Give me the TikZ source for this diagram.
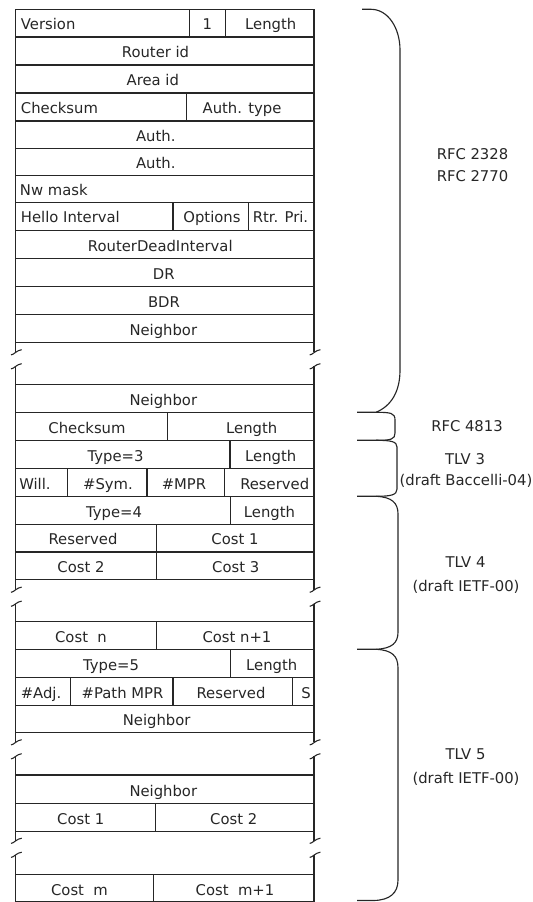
\documentclass[tikz,border=0pt]{standalone}
\usepackage{fontspec}
\setmainfont{DejaVu Sans}
\begin{document}
\begin{tikzpicture}[x=0.75pt,y=-0.75pt,
  tbl/.style={draw=black!85,line width=0.8pt},
  brc/.style={draw=black!85,line width=0.85pt},
  lbl/.style={anchor=base,inner sep=0pt,font=\fontsize{11.1pt}{13pt}\selectfont,text=black!85},
  lblw/.style={lbl,anchor=base west}]
\useasboundingbox (0,0) rectangle (532,902);
\newcommand\rowbox[2]{\draw[tbl] (15.3,#1) rectangle (314,#2);}
\newcommand\vdiv[3]{\draw[tbl] (#1,#2) -- (#1,#3);}
\newcommand\brk[2]{\draw[tbl] ({#1-4.3},{#2+2.6}) .. controls ({#1-1.5},{#2+2.6}) and ({#1+1.5},{#2-2.2}) .. ({#1+6.4},{#2-2.6});}
\newcommand\gap[4]{%
  \draw[tbl] (15.3,#1) -- (15.3,#2); \brk{15.3}{#2}
  \draw[tbl] (314,#1) -- (314,#2); \brk{314}{#2}
  \brk{15.3}{#3} \draw[tbl] (15.3,#3) -- (15.3,#4);
  \brk{314}{#3} \draw[tbl] (314,#3) -- (314,#4);}
% rows 1-12
\rowbox{9.3}{37} \vdiv{189.3}{9.3}{37} \vdiv{225.3}{9.3}{37}
\node[lblw] (ver) at (20.7,29.7) {Version};
\node[lbl] (one) at (207.3,29.7) {1};
\node[lbl] (len1) at (270.7,29.7) {Length};
\rowbox{37}{65} \node[lbl] (rid) at (155.5,57.7) {Router id};
\rowbox{65}{93} \node[lbl] (aid) at (152.8,85.7) {Area id};
\rowbox{93}{121} \vdiv{186.7}{93}{121}
\node[lblw] (cks1) at (20.7,113.7) {Checksum};
\node[lbl] (atype) at (242,113.7) {Auth. type};
\rowbox{121}{148.5} \node[lbl] (auth1) at (155.8,141.2) {Auth.};
\rowbox{148.5}{175.5} \node[lbl] (auth2) at (155.8,168.2) {Auth.};
\rowbox{175.5}{202.5} \node[lblw] (nwm) at (19.7,195.2) {Nw mask};
\rowbox{202.5}{230.3} \vdiv{173}{202.5}{230.3} \vdiv{248.3}{202.5}{230.3}
\node[lblw] (hello) at (20.7,223) {Hello Interval};
\node[lbl] (opt) at (212,223) {Options};
\node[lbl] (rtr) at (280.5,223) {Rtr. Pri.};
\rowbox{230.3}{258.3} \node[lbl] (rdi) at (160.3,251) {RouterDeadInterval};
\rowbox{258.3}{286.3} \node[lbl] (dr) at (163.7,279) {DR};
\rowbox{286.3}{314.3} \node[lbl] (bdr) at (164,307) {BDR};
\rowbox{314.3}{342.3} \node[lbl] (nb1) at (163.3,335) {Neighbor};
\gap{342.3}{352.3}{366.3}{384.3}
% rows 13-19
\rowbox{384.3}{412.3} \node[lbl] (nb2) at (163.3,405) {Neighbor};
\rowbox{412.3}{440.3} \vdiv{167.7}{412.3}{440.3}
\node[lbl] (cks2) at (87,433) {Checksum};
\node[lbl] (len2) at (251.7,433) {Length};
\rowbox{440.3}{468.3} \vdiv{230}{440.3}{468.3}
\node[lbl] (t3) at (115.5,461) {Type=3};
\node[lbl] (len3) at (270.7,461) {Length};
\rowbox{468.3}{496.3} \vdiv{67.7}{468.3}{496.3} \vdiv{147}{468.3}{496.3} \vdiv{224.3}{468.3}{496.3}
\node[lblw] (will) at (19,489) {Will.};
\node[lbl] (sym) at (108,489) {\#Sym.};
\node[lbl] (mpr) at (184,489) {\#MPR};
\node[lbl] (res1) at (274.7,489) {Reserved};
\rowbox{496.3}{524.3} \vdiv{230.7}{496.3}{524.3}
\node[lbl] (t4) at (114,517) {Type=4};
\node[lbl] (len4) at (269.5,517) {Length};
\rowbox{524.3}{552} \vdiv{156.7}{524.3}{552}
\node[lbl] (res2) at (83,544.7) {Reserved};
\node[lbl] (c1a) at (235,544.7) {Cost 1};
\rowbox{552}{579.7} \vdiv{156.7}{552}{579.7}
\node[lbl] (c2a) at (81,572.4) {Cost 2};
\node[lbl] (c3a) at (235.7,572.4) {Cost 3};
\gap{579.7}{589.7}{603.7}{621.7}
% rows 20-23
\rowbox{621.7}{649.3} \vdiv{156.7}{621.7}{649.3}
\node[lbl] (cn) at (81,642) {Cost\ \ n};
\node[lbl] (cn1) at (237,642) {Cost n+1};
\rowbox{649.3}{677.3} \vdiv{230.3}{649.3}{677.3}
\node[lbl] (t5) at (111,670) {Type=5};
\node[lbl] (len5) at (271.7,670) {Length};
\rowbox{677.3}{705.3} \vdiv{70.3}{677.3}{705.3} \vdiv{173}{677.3}{705.3} \vdiv{292.3}{677.3}{705.3}
\node[lbl] (adj) at (41,698) {\#Adj.};
\node[lbl] (pmpr) at (122.5,698) {\#Path MPR};
\node[lbl] (res3) at (231,698) {Reserved};
\node[lbl] (sflag) at (306,698) {S};
\rowbox{705.3}{732.7} \node[lbl] (nb3) at (156.7,725.4) {Neighbor};
\gap{732.7}{742.3}{756.3}{775}
% rows 24-25
\rowbox{775}{803.3} \node[lbl] (nb4) at (163.3,796) {Neighbor};
\rowbox{803.3}{831.3} \vdiv{155.3}{803.3}{831.3}
\node[lbl] (c1b) at (80.7,824) {Cost 1};
\node[lbl] (c2b) at (233.7,824) {Cost 2};
\gap{831.3}{840.8}{854.8}{874.7}
% row 26
\rowbox{874.7}{901.6} \vdiv{153.7}{874.7}{901.6}
\node[lbl] (cm) at (79.5,895.4) {Cost\ \ m};
\node[lbl] (cm1) at (235,895.4) {Cost\ \ m+1};
% brackets
\draw[brc] (362,9.3) -- (371,9.3) .. controls (388,9.3) and (400,28) .. (400,50) -- (400,370) .. controls (400,392) and (391,406) .. (376,412.3) -- (357,412.3);
\draw[brc] (376,412.3) .. controls (391,412.3) and (395,413) .. (395,420) -- (395,433) .. controls (395,439.5) and (391,440.3) .. (376,440.3) -- (357,440.3);
\draw[brc] (376,440.3) .. controls (391,440.3) and (397,441.5) .. (397,447) -- (397,489) .. controls (397,495) and (391,496.3) .. (376,496.3) -- (357,496.3);
\draw[brc] (376,496.3) .. controls (392,497) and (398,503) .. (398,514) -- (398,632) .. controls (398,643) and (392,648.5) .. (376,649.3) -- (357,649.3);
\draw[brc] (376,649.3) .. controls (392,650) and (398,656) .. (398,668) -- (398,880) .. controls (398,893) and (390,900) .. (374,900.5) -- (357,900.5);
% bracket labels
\node[lbl] (rfca) at (472.5,160) {RFC 2328};
\node[lbl] (rfcb) at (472.5,182) {RFC 2770};
\node[lbl] (rfcc) at (467,431) {RFC 4813};
\node[lbl] (tlv3) at (465,464) {TLV 3};
\node[lbl] (dr3) at (466,485) {(draft Baccelli-04)};
\node[lbl] (tlv4) at (465.5,567) {TLV 4};
\node[lbl] (dr4) at (466,591) {(draft IETF-00)};
\node[lbl] (tlv5) at (465.5,759) {TLV 5};
\node[lbl] (dr5) at (466,783.5) {(draft IETF-00)};
\end{tikzpicture}
\end{document}
